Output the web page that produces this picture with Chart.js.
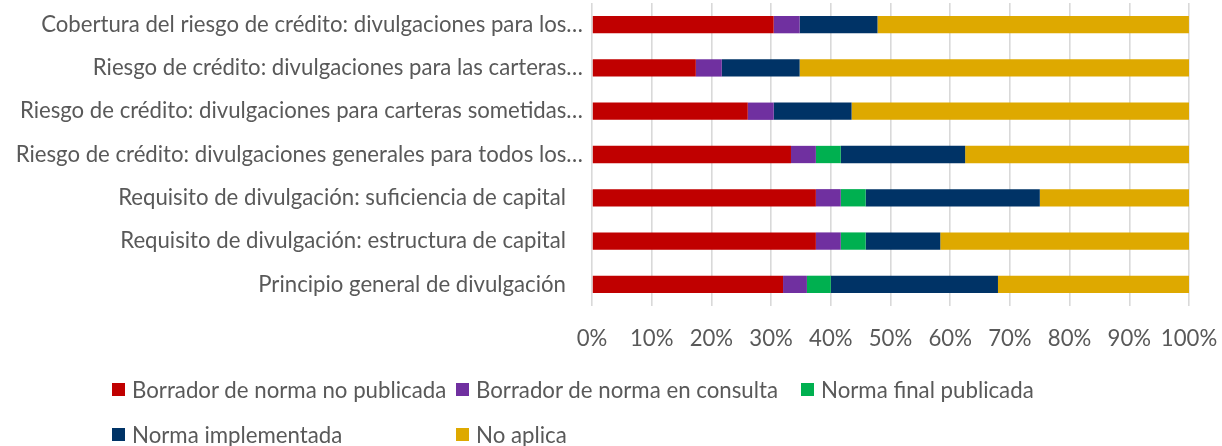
<!DOCTYPE html>
<html><head><meta charset="utf-8">
<script src="https://cdn.jsdelivr.net/npm/chart.js@4.4.1/dist/chart.umd.min.js"></script>
<style>
html,body{margin:0;padding:0;background:#fff;}
#wrap{position:relative;width:1222px;height:446px;overflow:hidden;}
#c{position:absolute;left:0;top:0;}
.lg{position:absolute;height:20px;display:flex;align-items:center;white-space:nowrap;color:#595959;font-family:Lato,"Open Sans",sans-serif;}
.lg .box{width:13px;height:13px;display:inline-block;margin-right:7px;flex:none;}
</style></head><body>
<div id="wrap"><canvas id="c" width="1222" height="446"></canvas></div>
<script>
const categories = [
  "Cobertura del riesgo de crédito: divulgaciones para los…",
  "Riesgo de crédito: divulgaciones para las carteras…",
  "Riesgo de crédito: divulgaciones para carteras sometidas…",
  "Riesgo de crédito: divulgaciones generales para todos los…",
  "Requisito de divulgación: suficiencia de capital\u00A0\u00A0\u00A0",
  "Requisito de divulgación: estructura de capital\u00A0\u00A0\u00A0",
  "Principio general de divulgación\u00A0\u00A0\u00A0"
];
const seriesNames = [
  "Borrador de norma no publicada",
  "Borrador de norma en consulta",
  "Norma final publicada",
  "Norma implementada",
  "No aplica"
];
const borradorNoPublicada = [30.43, 17.39, 26.09, 33.33, 37.5, 37.5, 32];
const borradorEnConsulta  = [4.35, 4.35, 4.35, 4.17, 4.17, 4.17, 4];
const normaFinalPublicada = [0, 0, 0, 4.17, 4.17, 4.17, 4];
const normaImplementada   = [13.04, 13.04, 13.04, 20.83, 29.17, 12.5, 28];
const noAplica            = [52.17, 65.22, 56.52, 37.5, 25, 41.67, 32];
const xTicks = [0, 10, 20, 30, 40, 50, 60, 70, 80, 90, 100];

const colors = ["#C00000", "#7030A0", "#00B050", "#003366", "#DEA900"];
const seriesData = [borradorNoPublicada, borradorEnConsulta, normaFinalPublicada, normaImplementada, noAplica];

const FAMILY = 'Lato';
function fitSize(text, target) {
  const cx = document.createElement('canvas').getContext('2d');
  cx.font = '100px ' + FAMILY;
  return 100 * target / cx.measureText(text).width;
}

async function build() {
  try { await document.fonts.load('20px ' + FAMILY); } catch (e) {}
  const fs = fitSize("Requisito de divulgación: suficiencia de capital", 448);
  const legFs = fitSize("Borrador de norma no publicada", 315);

  const chart = new Chart(document.getElementById('c'), {
    type: 'bar',
    data: {
      labels: categories,
      datasets: seriesNames.map((n, i) => ({
        label: n,
        data: seriesData[i],
        backgroundColor: colors[i],
        borderWidth: 0,
        barPercentage: 0.4,
        categoryPercentage: 1
      }))
    },
    options: {
      indexAxis: 'y',
      responsive: false,
      animation: false,
      devicePixelRatio: 1,
      layout: { padding: { top: 3, right: 33, bottom: 0, left: 0 } },
      plugins: { legend: { display: false }, tooltip: { enabled: false } },
      scales: {
        x: {
          stacked: true, min: 0, max: 100,
          afterBuildTicks: s => { s.ticks = xTicks.map(v => ({ value: v })); },
          afterFit: s => { s.height = 140; s.paddingLeft = 0; s.paddingRight = 0; },
          grid: { color: '#d9d9d9', lineWidth: 1.6, drawTicks: false },
          border: { display: false },
          ticks: { padding: 20, color: '#595959', font: { family: FAMILY, size: fs }, callback: v => v + '%' , maxRotation: 0, autoSkip: false }
        },
        y: {
          stacked: true,
          afterFit: s => { s.width = 592; s.paddingTop = 0; s.paddingBottom = 0; },
          grid: { display: false, drawTicks: false },
          border: { display: false },
          ticks: { padding: 9, color: '#595959', font: { family: FAMILY, size: fs }, autoSkip: false }
        }
      }
    }
  });

  const cols = [112, 456, 801];
  const rows = [389, 434];
  const pos = [[0,0],[1,0],[2,0],[0,1],[1,1]];
  const wrap = document.getElementById('wrap');
  chart.data.datasets.forEach((ds, i) => {
    const d = document.createElement('div');
    d.className = 'lg';
    d.style.left = cols[pos[i][0]] + 'px';
    d.style.top = (rows[pos[i][1]] - 10) + 'px';
    d.style.fontSize = legFs + 'px';
    const b = document.createElement('span');
    b.className = 'box';
    b.style.background = ds.backgroundColor;
    d.appendChild(b);
    d.appendChild(document.createTextNode(ds.label));
    wrap.appendChild(d);
  });
}
build();
</script>
</body></html>
